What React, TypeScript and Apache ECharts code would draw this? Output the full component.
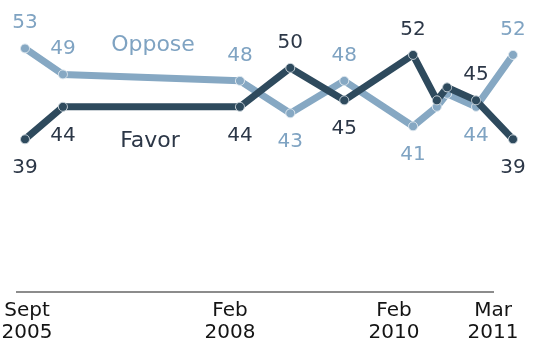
import React, { useEffect, useRef } from "react";
import * as echarts from "echarts";

const dates = [
  "2005-09-15",
  "2006-02-18",
  "2008-02-16",
  "2008-09-10",
  "2009-04-20",
  "2010-01-28",
  "2010-05-06",
  "2010-06-17",
  "2010-10-14",
  "2011-03-15",
];
const favor = [39, 44, 44, 50, 45, 52, 45, 47, 45, 39];
const oppose = [53, 49, 48, 43, 48, 41, 44, 46, 44, 52];
const labeled = [true, true, true, true, true, true, false, false, true, true];

const tickDates = ["2005-09-15", "2008-02-16", "2010-01-28", "2011-03-15"];
const tickMonths = ["Sept", "Feb", "Feb", "Mar"];
const tickYears = ["2005", "2008", "2010", "2011"];

const LIGHT = "#86a8c3";
const LIGHT_TEXT = "#7fa3c2";
const DARK = "#2e4a5d";
const DARK_TEXT = "#2c3747";
const FONT = "DejaVu Sans";

const DAY = 86400000;
const toDay = (d: string) => Math.round((Date.parse(d) - Date.parse(dates[0])) / DAY);

export default function App() {
  const ref = useRef<HTMLDivElement>(null);
  useEffect(() => {
    if (!ref.current) return;
    const chart = echarts.init(ref.current, null, { renderer: "svg" });
    const tickDays = tickDates.map(toDay);
    const mk = (own: number[], other: number[]) =>
      dates.map((d, i) => ({
        value: [toDay(d), own[i]],
        label: {
          show: labeled[i],
          position: own[i] > other[i] ? "top" : "bottom",
        },
      }));
    const labelPads = [
      [0, 0, 0, 4],
      [0, 20, 0, 0],
      [0, 38, 0, 0],
      [0, 40, 0, 0],
    ];
    const rich: any = {};
    labelPads.forEach((p, i) => {
      rich["l" + i] = {
        fontSize: 20,
        fontFamily: FONT,
        color: "#141414",
        lineHeight: 22,
        padding: p,
        align: "center",
      };
    });
    chart.setOption({
      animation: false,
      grid: { left: 25, right: 33, top: 3, bottom: 50, outerBoundsMode: "none", containLabel: false },
      xAxis: {
        type: "value",
        min: 0,
        max: toDay(dates[dates.length - 1]),
        axisLine: { show: false },
        axisTick: { show: false },
        splitLine: { show: false },
        axisLabel: {
          customValues: tickDays,
          margin: 3,
          showMinLabel: true,
          showMaxLabel: true,
          formatter: (v: number) => {
            let best = 0;
            tickDays.forEach((t, i) => {
              if (Math.abs(t - v) < Math.abs(tickDays[best] - v)) best = i;
            });
            return `{l${best}|${tickMonths[best]}}\n{l${best}|${tickYears[best]}}`;
          },
          rich,
        },
      },
      yAxis: {
        type: "value",
        min: 15,
        max: 60,
        show: false,
      },
      graphic: [
        {
          type: "line",
          shape: { x1: 16, y1: 292, x2: 494, y2: 292 },
          style: { stroke: "#8c8c8c", lineWidth: 2 },
        },
        {
          type: "text",
          x: 153,
          y: 43,
          style: {
            text: "Oppose",
            fill: LIGHT_TEXT,
            font: `22px '${FONT}'`,
            textAlign: "center",
            textVerticalAlign: "middle",
          },
        },
        {
          type: "text",
          x: 150,
          y: 139,
          style: {
            text: "Favor",
            fill: DARK_TEXT,
            font: `22px '${FONT}'`,
            textAlign: "center",
            textVerticalAlign: "middle",
          },
        },
      ],
      series: [
        {
          type: "line",
          name: "Oppose",
          data: mk(oppose, favor),
          symbol: "circle",
          symbolSize: 9,
          showAllSymbol: true,
          clip: false,
          lineStyle: { width: 7, color: LIGHT, cap: "round", join: "round" },
          itemStyle: { color: LIGHT, borderColor: "#dfe8ef", borderWidth: 1 },
          label: {
            distance: 12,
            fontSize: 20,
            fontFamily: FONT,
            color: LIGHT_TEXT,
            formatter: (p: any) => String(p.value[1]),
          },
          z: 2,
        },
        {
          type: "line",
          name: "Favor",
          data: mk(favor, oppose),
          symbol: "circle",
          symbolSize: 9,
          showAllSymbol: true,
          clip: false,
          lineStyle: { width: 7, color: DARK, cap: "round", join: "round" },
          itemStyle: { color: DARK, borderColor: "#c9d3da", borderWidth: 1 },
          label: {
            distance: 12,
            fontSize: 20,
            fontFamily: FONT,
            color: DARK_TEXT,
            formatter: (p: any) => String(p.value[1]),
          },
          z: 3,
        },
      ],
    });
    return () => chart.dispose();
  }, []);
  return (
    <div
      ref={ref}
      style={{ position: "fixed", left: 0, top: 0, width: 546, height: 345 }}
    />
  );
}
